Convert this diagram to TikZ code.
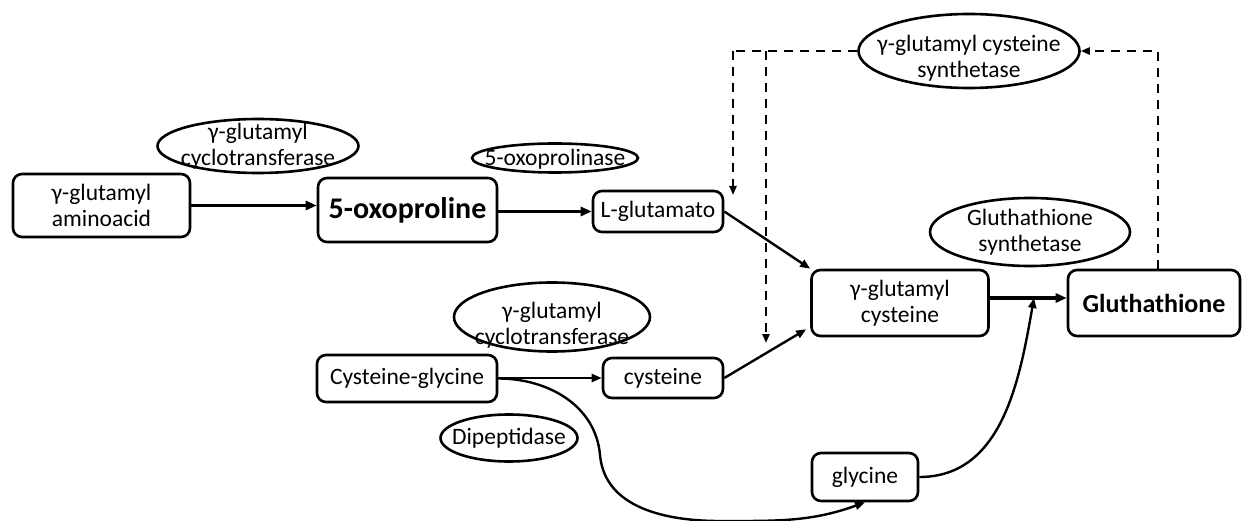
\documentclass[tikz,border=0pt]{standalone}
\usepackage{fontspec}
\setmainfont{Carlito}
\usetikzlibrary{arrows.meta,shapes.geometric,calc}
\begin{document}
\begin{tikzpicture}[x=1pt,y=-1pt,
  txt/.style={font=\fontsize{23.5}{26.5}\selectfont},
  box/.style={draw,rounded corners=9pt,line width=2.6pt,inner sep=0pt,align=center,txt},
  enz/.style={draw,ellipse,line width=2.6pt,inner sep=0pt},
  lbl/.style={align=center,txt,inner sep=0pt},
  arr/.style={line width=2.4pt,-{Triangle[length=10pt,width=8pt]}},
  tarr/.style={line width=3.2pt,-{Triangle[length=11pt,width=9pt]}},
  darr/.style={line width=2.6pt,dash pattern=on 9pt off 7pt,-{Triangle[length=9pt,width=7pt]}},
  dline/.style={line width=2.6pt,dash pattern=on 9pt off 7pt}]
\useasboundingbox (0,0) rectangle (1242,521);
% boxes
\node[box,minimum width=177pt,minimum height=63pt] (aa) at (101.5,205.5) {γ-glutamyl\\aminoacid};
\node[box,minimum width=179pt,minimum height=64pt,font=\fontsize{30}{36}\selectfont\bfseries] (oxo) at (407.5,210) {5-oxoproline};
\node[box,minimum width=130pt,minimum height=41pt] (glu) at (658,211.5) {L-glutamato};
\node[box,minimum width=177pt,minimum height=66pt] (gc) at (900,303) {γ-glutamyl\\cysteine};
\node[box,minimum width=172pt,minimum height=66pt,font=\fontsize{26}{31}\selectfont\bfseries] (gsh) at (1154,303) {Gluthathione};
\node[box,minimum width=180pt,minimum height=47pt] (cg) at (407,378.5) {Cysteine-glycine};
\node[box,minimum width=120pt,minimum height=40pt] (cys) at (663,378) {cysteine};
\node[box,minimum width=106pt,minimum height=48pt] (gly) at (865,477) {glycine};
% enzymes
\node[enz,minimum width=201pt,minimum height=54pt,label={[lbl]center:γ-glutamyl\\cyclotransferase}] (e1) at (258,146) {};
\node[enz,minimum width=166pt,minimum height=29pt,label={[lbl,yshift=-1pt]center:5-oxoprolinase}] (e2) at (555,158) {};
\node[enz,minimum width=221pt,minimum height=74pt,label={[lbl,yshift=-7pt]center:γ-glutamyl cysteine\\synthetase}] (e3) at (969,51) {};
\node[enz,minimum width=200pt,minimum height=68pt,label={[lbl]center:Gluthathione\\synthetase}] (e4) at (1030,232) {};
\node[enz,minimum width=196pt,minimum height=69pt,label={[lbl,yshift=-8pt]center:γ-glutamyl\\cyclotransferase}] (e5) at (552,317) {};
\node[enz,minimum width=137pt,minimum height=47pt,label={[lbl]center:Dipeptidase}] (e6) at (509,438) {};
% coordinates
\coordinate (jn) at (1034,298);
\coordinate (c1) at (733,51);
\coordinate (c2) at (766,51);
\coordinate (t1) at (733,195);
\coordinate (t2) at (766,343);
\coordinate (r1) at (1158,51);
\coordinate (low) at (720,521);
\coordinate (mid) at (600,455);
% connectors
\draw[tarr] (aa.east) -- (aa.east -| oxo.west);
\draw[tarr] (oxo.east |- glu.west) -- (glu.west);
\draw[arr] (glu.east) -- (gc.north west);
\draw[arr] (cys.east) -- ($(gc.south west)+(-4,-8)$);
\draw[arr] (cg.east |- cys.west) -- (cys.west);
\draw[tarr] (gc.east |- jn) -- (gsh.west |- jn);
\draw[arr] (gly.east) to[out=0,in=-100] (jn);
\draw[arr] (cg.east) to[out=0,in=95] (mid) to[out=-85,in=180] (low) to[out=0,in=-160] (gly.south);
% dashed
\draw[dline] (e3.west) -- (c2) -- (c1);
\draw[darr] (c1) -- (t1);
\draw[darr] (c2) -- (t2);
\draw[darr] (gsh.north -| r1) -- (r1) -- (e3.east);
\end{tikzpicture}
\end{document}
